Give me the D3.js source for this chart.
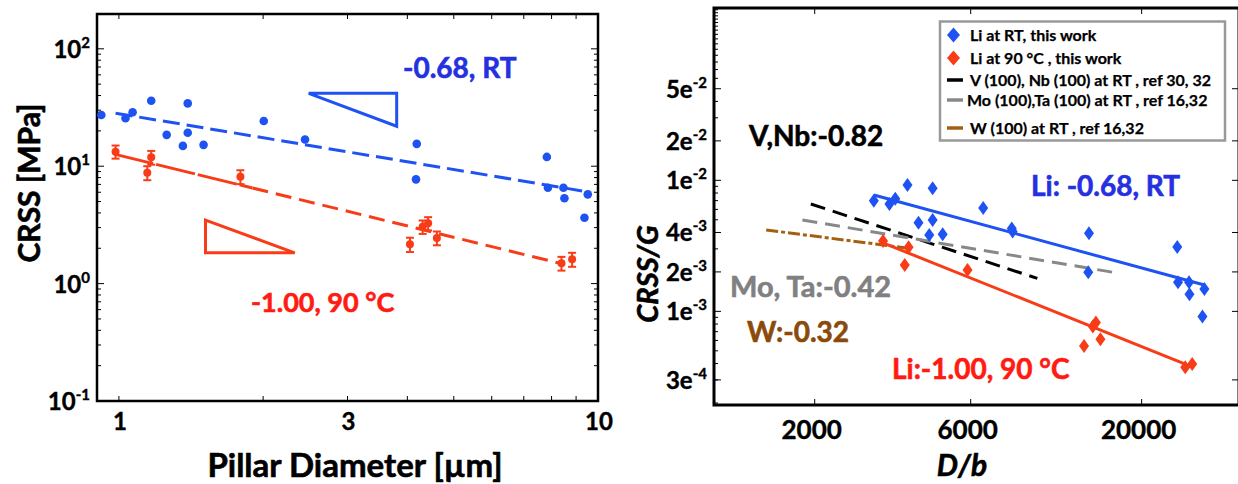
<!DOCTYPE html>
<html>
<head>
<meta charset="utf-8">
<script src="https://cdn.jsdelivr.net/npm/d3@7"></script>
<style>
  body { margin: 0; background: #fff; }
  svg { display: block; }
  text { font-family: Lato, "Open Sans", sans-serif; font-weight: 700; }
  text.heavy { stroke-width: 0.6px; }
</style>
</head>
<body>
<svg id="chart" width="1238" height="484"></svg>
<script>
// ---------------- data: left panel (CRSS vs pillar diameter) ----------------
const rtDiameter = [0.919, 1.032, 1.068, 1.168, 1.258, 1.360, 1.392, 1.392, 1.502, 2.006, 2.446, 4.185, 4.17, 7.82, 7.86, 8.47, 8.51, 9.52, 9.37];
const rtCrss     = [27.3, 25.6, 28.8, 36.1, 18.5, 14.9, 34.3, 19.3, 15.2, 24.3, 16.9, 15.5, 7.73, 12.0, 6.56, 6.56, 5.33, 5.76, 3.64];

const hotDiameter = [0.984, 1.146, 1.168, 1.793, 4.05, 4.305, 4.42, 4.61, 8.39, 8.83];
const hotCrss     = [13.3, 8.80, 11.9, 8.14, 2.16, 3.05, 3.26, 2.45, 1.49, 1.61];
const hotErr      = [1.7, 1.2, 1.6, 1.1, 0.30, 0.40, 0.42, 0.33, 0.20, 0.22];

// power-law fits: CRSS = prefactor * D^slope
const rtFit  = { slope: -0.68, prefactor: 28.0, from: 0.984, to: 9.6 };
const hotFit = { slope: -1.00, prefactor: 12.4, from: 0.978, to: 8.44 };

// slope triangles (diameter, CRSS)
const rtTriangle  = [[2.49, 41.8], [3.80, 41.8], [3.80, 21.9]];
const hotTriangle = [[1.516, 3.48], [1.516, 1.83], [2.328, 1.83]];

const leftXTicks = [1, 2, 3, 4, 5, 6, 7, 8, 9, 10];
const leftXLabels = [1, 3, 10];
const leftYDecades = [0.1, 1, 10, 100];
const leftYExponents = ["-1", "0", "1", "2"];

// ---------------- data: right panel (CRSS/G vs D/b) ----------------
const liRtDb   = [3033, 3385, 3527, 3844, 4589, 4154, 4589, 4481, 4925, 6551, 8013, 8060, 13800, 13730, 25700, 25840, 27930, 28010, 31110, 30690];
const liRtCrss = [6.99e-3, 6.60e-3, 7.24e-3, 9.21e-3, 8.70e-3, 4.75e-3, 4.98e-3, 3.83e-3, 3.88e-3, 6.15e-3, 4.28e-3, 4.06e-3, 3.94e-3, 1.99e-3, 3.10e-3, 1.67e-3, 1.67e-3, 1.35e-3, 1.48e-3, 9.12e-4];

const li90Db   = [3236, 3874, 3771, 5867, 13330, 14180, 14490, 14960, 27190, 28550];
const li90Crss = [3.45e-3, 3.08e-3, 2.26e-3, 2.07e-3, 5.45e-4, 7.65e-4, 8.21e-4, 6.13e-4, 3.75e-4, 3.97e-4];

// fitted trends: CRSS/G = start * (D/b / from)^slope
const liRtTrend = { slope: -0.68, from: 3033, to: 31110, start: 7.73e-3 };
const li90Trend = { slope: -1.00, from: 3236, to: 27190, start: 3.33e-3 };
const vNbTrend  = { slope: -0.82, from: 1946, to: 9594,  start: 6.60e-3 };
const moTaTrend = { slope: -0.42, from: 1834, to: 16580, start: 4.98e-3 };
const wTrend    = { slope: -0.32, from: 1421, to: 3812,  start: 4.18e-3 };

const rightXTicks = [2000, 6000, 20000];
const rightYTicks = [0.05, 0.02, 0.01, 0.004, 0.002, 0.001, 0.0003];
const rightYMantissa = ["5e", "2e", "1e", "4e", "2e", "1e", "3e"];
const rightYExponent = ["-2", "-2", "-2", "-3", "-3", "-3", "-4"];

const legendLabels = [
  "Li at RT, this work",
  "Li at 90 °C , this work",
  "V (100), Nb (100) at RT , ref 30, 32",
  "Mo (100),Ta (100) at RT , ref 16,32",
  "W (100) at RT , ref 16,32"
];

// ---------------- colours ----------------
const BLUE = "#1f52f2", BLUE_TXT = "#2530e0";
const RED = "#f83c17", RED_TXT = "#ff1a12";
const GRAY = "#888888", GRAY_TXT = "#808080";
const BROWN = "#a4600f", BROWN_TXT = "#8a4a0a";

const svg = d3.select("#chart");

// bold label helper: a thin outline in the fill colour thickens the strokes
function heavyText(g, x, y, size, color, str) {
  return g.append("text").attr("class", "heavy").attr("x", x).attr("y", y)
    .attr("font-size", size).attr("fill", color).attr("stroke", color).text(str);
}

// ======================= LEFT PANEL =======================
const L = { x0: 97, x1: 598, y0: 14, y1: 401 };
const xL = d3.scaleLog().domain([0.9, 10]).range([L.x0, L.x1]);
const yL = d3.scaleLog().domain([0.1, 198]).range([L.y1, L.y0]);

const left = svg.append("g");
const leftMinorY = [];
for (const dec of [0.1, 1, 10, 100]) for (let k = 2; k <= 9; k++) if (dec * k < 198) leftMinorY.push(dec * k);

// inward ticks on all four sides
const hTick = (g, vals, scale, x, len) => g.selectAll(null).data(vals).join("line")
  .attr("x1", x).attr("x2", x + len).attr("y1", d => scale(d)).attr("y2", d => scale(d))
  .attr("stroke", "#000").attr("stroke-width", 1);
const vTick = (g, vals, scale, y, len) => g.selectAll(null).data(vals).join("line")
  .attr("x1", d => scale(d)).attr("x2", d => scale(d)).attr("y1", y).attr("y2", y + len)
  .attr("stroke", "#000").attr("stroke-width", 1);

hTick(left, leftYDecades, yL, L.x0, 7);
hTick(left, leftMinorY, yL, L.x0, 4);
hTick(left, leftYDecades, yL, L.x1, -7);
hTick(left, leftMinorY, yL, L.x1, -4);
vTick(left, leftXTicks, xL, L.y1, -5);
vTick(left, leftXTicks, xL, L.y0, 5);

// frame
left.append("rect").attr("x", L.x0).attr("y", L.y0)
  .attr("width", L.x1 - L.x0).attr("height", L.y1 - L.y0)
  .attr("fill", "none").attr("stroke", "#000").attr("stroke-width", 2.5);

// tick labels
left.selectAll(".xl").data(leftXLabels).join("text")
  .attr("x", d => xL(d) + 1).attr("y", 430).attr("text-anchor", "middle")
  .attr("font-size", 24).attr("stroke", "#000").attr("stroke-width", 0.4).text(d => d);
const yLab = left.selectAll(".yl").data(leftYDecades).join("text")
  .attr("x", 90).attr("y", d => yL(d) + 9).attr("text-anchor", "end").attr("font-size", 24)
  .attr("stroke", "#000").attr("stroke-width", 0.4);
yLab.append("tspan").text("10");
yLab.append("tspan").attr("dy", -10).attr("font-size", 15).text((d, i) => leftYExponents[i]);

// axis titles
heavyText(left, 355, 477, 33, "#000", "Pillar Diameter [µm]").attr("text-anchor", "middle");
heavyText(left, 0, 0, 30, "#000", "CRSS [MPa]").attr("text-anchor", "middle")
  .attr("transform", "translate(40,183) rotate(-90)");

// fits
const fitLine = f => [[f.from, f.prefactor * Math.pow(f.from, f.slope)], [f.to, f.prefactor * Math.pow(f.to, f.slope)]];
const lineL = d3.line().x(d => xL(d[0])).y(d => yL(d[1]));
left.append("path").attr("d", lineL(fitLine(rtFit)))
  .attr("stroke", BLUE).attr("stroke-width", 3).attr("fill", "none").attr("stroke-dasharray", "17 7");
const hotA = fitLine({ ...hotFit, to: 1.9 });
const hotB = fitLine({ ...hotFit, from: 1.9 });
left.append("path").attr("d", lineL(hotA))
  .attr("stroke", RED).attr("stroke-width", 3).attr("fill", "none").attr("stroke-dasharray", "40 3");
left.append("path").attr("d", lineL(hotB))
  .attr("stroke", RED).attr("stroke-width", 3).attr("fill", "none").attr("stroke-dasharray", "16 8");

// slope triangles
left.append("path").attr("d", lineL(rtTriangle) + "Z")
  .attr("fill", "none").attr("stroke", BLUE).attr("stroke-width", 3);
left.append("path").attr("d", lineL(hotTriangle) + "Z")
  .attr("fill", "none").attr("stroke", RED).attr("stroke-width", 3);

// RT points
left.selectAll(".rt").data(rtDiameter).join("circle")
  .attr("cx", d => xL(d)).attr("cy", (d, i) => yL(rtCrss[i])).attr("r", 4.3).attr("fill", BLUE);

// 90 °C points with error bars
const eb = left.selectAll(".eb").data(hotDiameter).join("g");
eb.append("line").attr("x1", d => xL(d)).attr("x2", d => xL(d))
  .attr("y1", (d, i) => yL(hotCrss[i] - hotErr[i])).attr("y2", (d, i) => yL(hotCrss[i] + hotErr[i]))
  .attr("stroke", RED).attr("stroke-width", 2);
eb.append("line").attr("x1", d => xL(d) - 4).attr("x2", d => xL(d) + 4)
  .attr("y1", (d, i) => yL(hotCrss[i] + hotErr[i])).attr("y2", (d, i) => yL(hotCrss[i] + hotErr[i]))
  .attr("stroke", RED).attr("stroke-width", 2);
eb.append("line").attr("x1", d => xL(d) - 4).attr("x2", d => xL(d) + 4)
  .attr("y1", (d, i) => yL(hotCrss[i] - hotErr[i])).attr("y2", (d, i) => yL(hotCrss[i] - hotErr[i]))
  .attr("stroke", RED).attr("stroke-width", 2);
eb.append("circle").attr("cx", d => xL(d)).attr("cy", (d, i) => yL(hotCrss[i])).attr("r", 4).attr("fill", RED);

// slope annotations
heavyText(left, 403, 78, 28, BLUE_TXT, "-0.68, RT");
heavyText(left, 251, 312, 27, RED_TXT, "-1.00, 90 °C");

// ======================= RIGHT PANEL =======================
const R = { x0: 714, x1: 1239, y0: 8, y1: 405 };
const xR = d3.scaleLog().domain([984, 39700]).range([R.x0, R.x1]);
const yR = d3.scaleLog().domain([1.93e-4, 0.2065]).range([R.y1, R.y0]);
const right = svg.append("g");

const rightMinorY = [];
for (const dec of [1e-4, 1e-3, 1e-2]) for (let k = 1; k <= 9; k++) {
  const v = dec * k;
  if (v > 1.93e-4 && !rightYTicks.includes(v)) rightMinorY.push(v);
}
for (let k = 10; k <= 20; k++) rightMinorY.push(k / 100);

hTick(right, rightYTicks, yR, R.x0, 7);
hTick(right, rightMinorY, yR, R.x0, 4);
hTick(right, rightYTicks, yR, R.x1, -7);
vTick(right, rightXTicks, xR, R.y1, -6);
vTick(right, rightXTicks, xR, R.y0, 6);

right.append("rect").attr("x", R.x0).attr("y", R.y0)
  .attr("width", R.x1 - R.x0).attr("height", R.y1 - R.y0)
  .attr("fill", "none").attr("stroke", "#000").attr("stroke-width", 3);

// tick labels
right.selectAll(".xl").data(rightXTicks).join("text")
  .attr("x", d => xR(d) - 3).attr("y", 439).attr("text-anchor", "middle")
  .attr("font-size", 26).attr("stroke", "#000").attr("stroke-width", 0.4).text(d => d);
const yLabR = right.selectAll(".yl").data(rightYTicks).join("text")
  .attr("x", 707).attr("y", d => yR(d) + 9).attr("text-anchor", "end").attr("font-size", 24)
  .attr("stroke", "#000").attr("stroke-width", 0.4);
yLabR.append("tspan").text((d, i) => rightYMantissa[i]);
yLabR.append("tspan").attr("dy", -10).attr("font-size", 15).text((d, i) => rightYExponent[i]);

// axis titles
heavyText(right, 962, 476, 30, "#000", "D/b").attr("text-anchor", "middle").attr("font-style", "italic");
heavyText(right, 0, 0, 29, "#000", "CRSS/G").attr("text-anchor", "middle").attr("font-style", "italic")
  .attr("transform", "translate(658,274) rotate(-90)");

// trend lines
const trend = t => [[t.from, t.start], [t.to, t.start * Math.pow(t.to / t.from, t.slope)]];
const lineR = d3.line().x(d => xR(d[0])).y(d => yR(d[1]));
right.append("path").attr("d", lineR(trend(vNbTrend)))
  .attr("stroke", "#000").attr("stroke-width", 3).attr("fill", "none").attr("stroke-dasharray", "15 8");
right.append("path").attr("d", lineR(trend(moTaTrend)))
  .attr("stroke", GRAY).attr("stroke-width", 3).attr("fill", "none").attr("stroke-dasharray", "15 8");
right.append("path").attr("d", lineR(trend(wTrend)))
  .attr("stroke", BROWN).attr("stroke-width", 3).attr("fill", "none").attr("stroke-dasharray", "12 3 4 3");
right.append("path").attr("d", lineR(trend(liRtTrend)))
  .attr("stroke", BLUE).attr("stroke-width", 3).attr("fill", "none");
right.append("path").attr("d", lineR(trend(li90Trend)))
  .attr("stroke", RED).attr("stroke-width", 3).attr("fill", "none");

// diamonds
const diamond = (w, h) => `M0,${-h}L${w},0L0,${h}L${-w},0Z`;
right.selectAll(".dRt").data(liRtDb).join("path")
  .attr("d", diamond(5, 7))
  .attr("transform", (d, i) => `translate(${xR(d)},${yR(liRtCrss[i])})`).attr("fill", BLUE);
right.selectAll(".d90").data(li90Db).join("path")
  .attr("d", diamond(5, 7))
  .attr("transform", (d, i) => `translate(${xR(d)},${yR(li90Crss[i])})`).attr("fill", RED);

// annotations
heavyText(right, 749, 146, 28, "#000", "V,Nb:-0.82");
heavyText(right, 1031, 196, 28, BLUE_TXT, "Li: -0.68, RT");
heavyText(right, 730, 297, 29, GRAY_TXT, "Mo, Ta:-0.42");
heavyText(right, 747, 342, 28, BROWN_TXT, "W:-0.32");
heavyText(right, 892, 379, 28, RED_TXT, "Li:-1.00, 90 °C");

// legend
const leg = right.append("g");
leg.append("rect").attr("x", 940).attr("y", 21.5).attr("width", 285).attr("height", 119)
  .attr("fill", "#fff").attr("stroke", "#999").attr("stroke-width", 2.5);
const legRows = [35, 58, 80, 100, 128];
const legKinds = [
  { type: "diamond", color: BLUE },
  { type: "diamond", color: RED },
  { type: "line", color: "#000" },
  { type: "line", color: GRAY },
  { type: "line", color: BROWN }
];
legKinds.forEach((k, i) => {
  if (k.type === "diamond") {
    leg.append("path").attr("d", diamond(6.5, 7.5))
      .attr("transform", `translate(953.5,${legRows[i]})`).attr("fill", k.color);
  } else {
    leg.append("line").attr("x1", 947).attr("x2", 963).attr("y1", legRows[i]).attr("y2", legRows[i])
      .attr("stroke", k.color).attr("stroke-width", 3.5);
  }
  leg.append("text").attr("x", i === 3 ? 967 : 970).attr("y", legRows[i] + 5.5)
    .attr("font-size", 16).attr("fill", "#000").attr("stroke", "#000").attr("stroke-width", 0.25)
    .text(legendLabels[i]);
});
</script>
</body>
</html>
